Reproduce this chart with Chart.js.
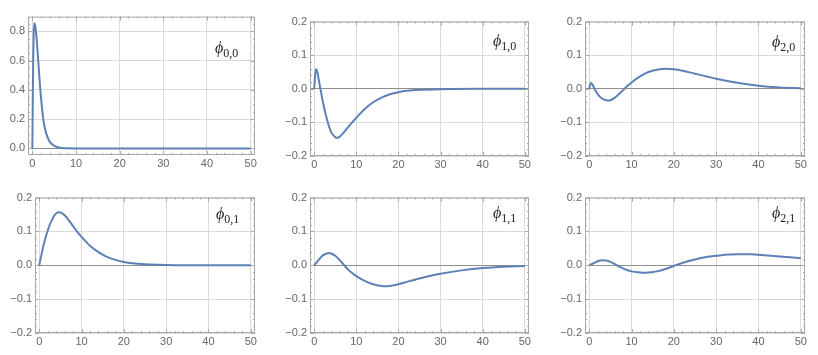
<!DOCTYPE html>
<html>
<head>
<meta charset="utf-8">
<script src="https://cdn.jsdelivr.net/npm/chart.js@4.4.0/dist/chart.umd.min.js"></script>
<style>
  body { margin: 0; background: #fff; }
  #wrap { position: relative; width: 818px; height: 355px; overflow: hidden; }
  #wrap canvas { position: absolute; }
  .lbl { position: absolute; font-family: 'Liberation Serif', 'DejaVu Serif', serif; color: #222; line-height: 1; white-space: nowrap; }
  .lbl i { font-size: 16px; }
  .lbl span { font-size: 12px; position: relative; top: 4px; }
</style>
</head>
<body>
<div id="wrap"></div>
<script>
// phi_{0,0}
const x00 = [0, 0.1, 0.2, 0.3, 0.45, 0.7, 1, 1.3, 1.6, 2, 2.5, 3, 3.5, 4, 5, 6, 7, 8, 10, 15, 20, 30, 40, 50]
const phi00 = [0, 0.36, 0.62, 0.78, 0.855, 0.83, 0.74, 0.62, 0.49, 0.34, 0.2, 0.12, 0.075, 0.045, 0.018, 0.007, 0.003, 0.001, 0, 0, 0, 0, 0, 0]

// phi_{1,0}
const x10 = [0, 0.25, 0.5, 0.75, 1, 1.5, 2, 3, 4, 5, 5.5, 6, 7, 8, 9, 10, 12, 14, 16, 18, 20, 22, 25, 30, 40, 50]
const phi10 = [0, 0.045, 0.058, 0.05, 0.032, -0.002, -0.035, -0.09, -0.128, -0.144, -0.146, -0.143, -0.13, -0.115, -0.1, -0.086, -0.06, -0.04, -0.026, -0.016, -0.01, -0.006, -0.003, -0.001, 0, 0]

// phi_{2,0}
const x20 = [0, 0.2, 0.4, 0.7, 1, 1.5, 2, 3, 4, 4.5, 5, 6, 7, 8, 9, 10, 12, 14, 16, 18, 20, 22, 25, 28, 30, 35, 40, 45, 50]
const phi20 = [0, 0.012, 0.017, 0.014, 0.007, -0.006, -0.016, -0.029, -0.034, -0.035, -0.034, -0.027, -0.016, -0.004, 0.008, 0.019, 0.037, 0.05, 0.057, 0.06, 0.058, 0.054, 0.045, 0.036, 0.03, 0.018, 0.009, 0.004, 0.002]

// phi_{0,1}
const x01 = [0, 0.5, 1, 1.5, 2, 2.5, 3, 3.5, 4, 4.5, 5, 6, 7, 8, 9, 10, 12, 14, 16, 18, 20, 22, 25, 30, 40, 50]
const phi01 = [0, 0.03, 0.058, 0.082, 0.102, 0.12, 0.134, 0.146, 0.153, 0.157, 0.156, 0.148, 0.133, 0.116, 0.099, 0.084, 0.058, 0.039, 0.025, 0.016, 0.01, 0.006, 0.003, 0.001, 0, 0]

// phi_{1,1}
const x11 = [0, 1, 2, 3, 3.5, 4, 5, 6, 7, 8, 9, 10, 12, 14, 16, 17, 18, 20, 22, 25, 28, 30, 35, 40, 45, 50]
const phi11 = [0, 0.015, 0.029, 0.035, 0.036, 0.035, 0.028, 0.016, 0.002, -0.012, -0.023, -0.032, -0.046, -0.056, -0.061, -0.062, -0.061, -0.056, -0.049, -0.039, -0.03, -0.025, -0.015, -0.008, -0.004, -0.002]

// phi_{2,1}
const x21 = [0, 1, 2, 3, 4, 5, 6, 7, 8, 9, 10, 12, 13.5, 15, 16, 18, 20, 22, 25, 28, 30, 33, 35, 38, 40, 45, 50]
const phi21 = [0, 0.006, 0.012, 0.015, 0.014, 0.01, 0.004, -0.003, -0.009, -0.014, -0.018, -0.021, -0.022, -0.02, -0.018, -0.011, -0.002, 0.007, 0.017, 0.025, 0.028, 0.032, 0.033, 0.033, 0.031, 0.026, 0.021]

const xTicks = { min: -1, max: 51, step: 10, minor: 2 }

// plot area of each panel in page pixels: [left, top, right, bottom]
const panels = [
  { xs: x00, ys: phi00, sub: '0,0', area: [28, 15, 255, 155], yMin: -0.045, yMax: 0.9, yStep: 0.2, yMinor: 0.05, lbl: [215, 40] },
  { xs: x10, ys: phi10, sub: '1,0', area: [310, 20, 529, 156], yMin: -0.2, yMax: 0.2, yStep: 0.1, yMinor: 0.02, lbl: [493, 33] },
  { xs: x20, ys: phi20, sub: '2,0', area: [585, 20, 805, 156], yMin: -0.2, yMax: 0.2, yStep: 0.1, yMinor: 0.02, lbl: [772, 34] },
  { xs: x01, ys: phi01, sub: '0,1', area: [35, 196, 255, 333], yMin: -0.2, yMax: 0.2, yStep: 0.1, yMinor: 0.02, lbl: [216, 206] },
  { xs: x11, ys: phi11, sub: '1,1', area: [310, 196, 529, 333], yMin: -0.2, yMax: 0.2, yStep: 0.1, yMinor: 0.02, lbl: [493, 205] },
  { xs: x21, ys: phi21, sub: '2,1', area: [585, 196, 805, 333], yMin: -0.2, yMax: 0.2, yStep: 0.1, yMinor: 0.02, lbl: [772, 205] }
]

const yAxisW = 28
const xAxisH = 16
const padTop = 8
const padRight = 10

// frame with major + minor tick marks on all four sides
const framePlugin = {
  id: 'frame',
  afterDatasetsDraw(chart, args, opts) {
    const { ctx, chartArea: a, scales: { x, y } } = chart
    ctx.save()
    ctx.strokeStyle = '#a8a8a8'
    ctx.lineWidth = 1
    ctx.strokeRect(a.left + 0.5, a.top + 0.5, a.right - a.left - 1, a.bottom - a.top - 1)

    const marks = (scale, step, len, horiz) => {
      const i0 = Math.ceil(scale.min / step - 1e-9)
      const i1 = Math.floor(scale.max / step + 1e-9)
      ctx.beginPath()
      for (let i = i0; i <= i1; i++) {
        const p = Math.round(scale.getPixelForValue(i * step)) + 0.5
        if (horiz) {
          ctx.moveTo(p, a.bottom); ctx.lineTo(p, a.bottom - len)
          ctx.moveTo(p, a.top); ctx.lineTo(p, a.top + len)
        } else {
          ctx.moveTo(a.left, p); ctx.lineTo(a.left + len, p)
          ctx.moveTo(a.right, p); ctx.lineTo(a.right - len, p)
        }
      }
      ctx.stroke()
    }
    marks(x, opts.xMinor, 2, true)
    marks(x, opts.xStep, 4, true)
    marks(y, opts.yMinor, 2, false)
    marks(y, opts.yStep, 4, false)
    ctx.restore()
  }
}

const tickFont = { family: "'Liberation Sans', Arial, sans-serif", size: 11 }
const wrap = document.getElementById('wrap')

panels.forEach((p) => {
  const [L, T, R, B] = p.area
  const cv = document.createElement('canvas')
  const w = R - L + yAxisW + padRight
  const h = B - T + padTop + xAxisH + 2
  cv.width = w
  cv.height = h
  cv.style.left = (L - yAxisW) + 'px'
  cv.style.top = (T - padTop) + 'px'
  cv.style.width = w + 'px'
  cv.style.height = h + 'px'
  wrap.appendChild(cv)

  new Chart(cv.getContext('2d'), {
    type: 'line',
    data: {
      datasets: [{
        data: p.xs.map((x, i) => ({ x: x, y: p.ys[i] })),
        borderColor: '#5E81B5',
        borderWidth: 2,
        pointRadius: 0,
        fill: false,
        cubicInterpolationMode: 'monotone'
      }]
    },
    options: {
      responsive: false,
      animation: false,
      devicePixelRatio: 1,
      layout: { autoPadding: false, padding: { top: padTop, right: padRight, left: 0, bottom: 2 } },
      plugins: {
        legend: { display: false },
        tooltip: { enabled: false },
        frame: { xStep: xTicks.step, xMinor: xTicks.minor, yStep: p.yStep, yMinor: p.yMinor }
      },
      scales: {
        x: {
          type: 'linear',
          min: xTicks.min,
          max: xTicks.max,
          afterFit: (s) => { s.height = xAxisH },
          border: { display: false },
          grid: { color: '#dadada', drawTicks: false },
          ticks: {
            stepSize: xTicks.step,
            includeBounds: false,
            maxRotation: 0,
            padding: 2,
            color: '#666',
            font: tickFont,
            callback: (v) => String(v)
          }
        },
        y: {
          min: p.yMin,
          max: p.yMax,
          afterFit: (s) => { s.width = yAxisW },
          border: { display: false },
          grid: {
            drawTicks: false,
            color: (c) => (c.tick && Math.abs(c.tick.value) < 1e-9 ? '#8f8f8f' : '#dadada')
          },
          ticks: {
            stepSize: p.yStep,
            includeBounds: false,
            padding: 3,
            color: '#666',
            font: tickFont,
            callback: (v) => (v < -1e-9 ? '\u2212' : '') + Math.abs(v).toFixed(1)
          }
        }
      }
    },
    plugins: [framePlugin]
  })

  const lbl = document.createElement('div')
  lbl.className = 'lbl'
  lbl.style.left = p.lbl[0] + 'px'
  lbl.style.top = p.lbl[1] + 'px'
  lbl.innerHTML = '<i>\u03D5</i><span>' + p.sub + '</span>'
  wrap.appendChild(lbl)
})
</script>
</body>
</html>
